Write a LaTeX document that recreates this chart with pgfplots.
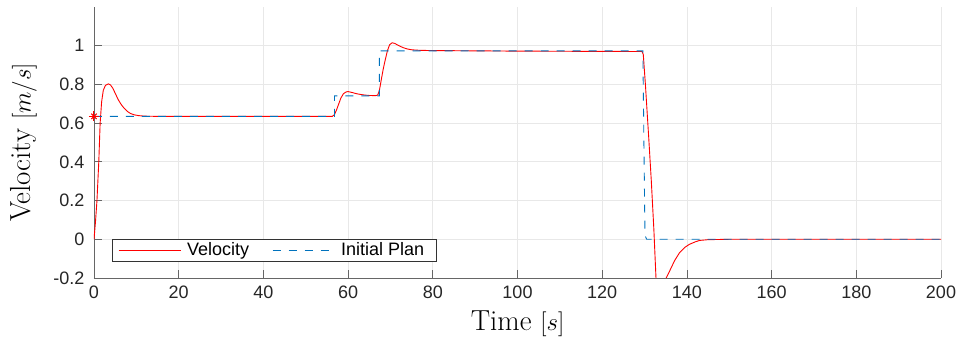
\documentclass[border=0pt]{standalone}
\usepackage{fontspec}
\newfontfamily\arial{Liberation Sans}
\usepackage{pgfplots}
\pgfplotsset{compat=1.18}
\definecolor{mblue}{rgb}{0,0.447,0.741}
\begin{document}
\begin{tikzpicture}
\begin{axis}[
 scale only axis, width=847pt, height=271pt,
 xmin=0, xmax=200, ymin=-0.2, ymax=1.2,
 xtick={0,20,...,200}, ytick={-0.2,0,0.2,0.4,0.6,0.8,1},
 yticklabels={-0.2,0,0.2,0.4,0.6,0.8,1},
 axis x line*=bottom, axis y line*=left,
 axis line style={draw=black!60, line width=0.8pt},
 tick align=inside, major tick length=8pt,
 tick style={draw=black!60, line width=0.8pt},
 grid=major, major grid style={draw=black!9, line width=0.8pt},
 tick label style={font=\arial\fontsize{18}{20}\selectfont, text=black!85},
 /pgf/number format/assume math mode=true,
 xticklabel style={yshift=-4pt},
 yticklabel style={xshift=-6pt},
 xlabel={Time $[s]$}, ylabel={Velocity $[m/s]$},
 label style={font=\fontsize{29}{32}\selectfont, inner sep=0pt},
 xlabel style={at={(axis description cs:0.5,0)}, anchor=north, yshift=-33pt},
 ylabel style={at={(axis description cs:-0.0673,0.5)}, anchor=south},
 legend columns=2,
 legend cell align=left,
 legend style={at={(axis description cs:0.02125,0.0627)}, anchor=south west,
   draw=black!80, fill=white,
   font=\arial\fontsize{18}{20}\selectfont,
   inner xsep=6pt, inner ysep=0.5pt, column sep=0pt,
   nodes={inner xsep=6pt, inner ysep=3pt},
   /tikz/every even column/.append style={column sep=17pt}},
 legend image code/.code={\draw[#1] (0pt,0pt) -- (62pt,0pt);},
]
\addplot[red, line width=0.9pt, legend image post style={draw=red, line width=0.9pt, solid}] coordinates {
 (0,0) (0.35,0.09) (0.7,0.2) (1.13,0.4) (1.45,0.6) (1.8,0.71) (2.2,0.77)
 (2.7,0.795) (3.4,0.803) (3.9,0.797) (4.4,0.782) (5.0,0.755) (5.7,0.722)
 (6.4,0.697) (7.0,0.68) (7.8,0.662) (8.6,0.65) (9.5,0.643) (10.5,0.639)
 (12,0.636) (15,0.635) (56.3,0.635)
 (56.8,0.645) (57.3,0.67) (57.8,0.70) (58.3,0.73) (58.9,0.752) (59.5,0.761)
 (60.0,0.763) (61,0.758) (62,0.752) (63,0.748) (64,0.745) (65,0.743)
 (66.5,0.742) (67.0,0.745) (67.4,0.77) (67.8,0.82) (68.3,0.88) (68.8,0.93)
 (69.3,0.975) (69.8,1.005) (70.4,1.015) (71,1.012) (72,1.0) (73,0.99)
 (74,0.983) (75,0.979) (77,0.976) (80,0.975) (100,0.972) (129.4,0.970)
 (129.7,0.955) (130.2,0.8) (131,0.52) (131.6,0.3) (132.2,0.05) (132.7,-0.2)
 (133.2,-0.29) (133.8,-0.32) (134.4,-0.29) (135.1,-0.2) (135.9,-0.165)
 (137.1,-0.11) (138.3,-0.068) (139.5,-0.042) (140.6,-0.026) (142,-0.013)
 (143,-0.006) (145,-0.002) (150,0) (200,0)
};
\addlegendentry{Velocity}
\addplot[mblue, line width=0.9pt, dash pattern=on 8pt off 8pt,
  legend image post style={draw=mblue, line width=0.9pt, dash pattern=on 8pt off 8pt}] coordinates {
 (0,0.635) (56.8,0.635) (56.8,0.741) (67.4,0.741) (67.4,0.973)
 (129.6,0.973) (130.1,0.02) (130.5,0) (200,0)
};
\addlegendentry{Initial Plan}
\addplot[red, only marks, mark=+, mark size=5pt, line width=1pt, forget plot] coordinates {(0,0.635)};
\addplot[red, only marks, mark=x, mark size=3.8pt, line width=1pt, forget plot] coordinates {(0,0.635)};
\end{axis}
\path ([shift={(-94pt,-67pt)}]current axis.south west) rectangle ([shift={(20pt,7pt)}]current axis.north east);
\end{tikzpicture}
\end{document}
